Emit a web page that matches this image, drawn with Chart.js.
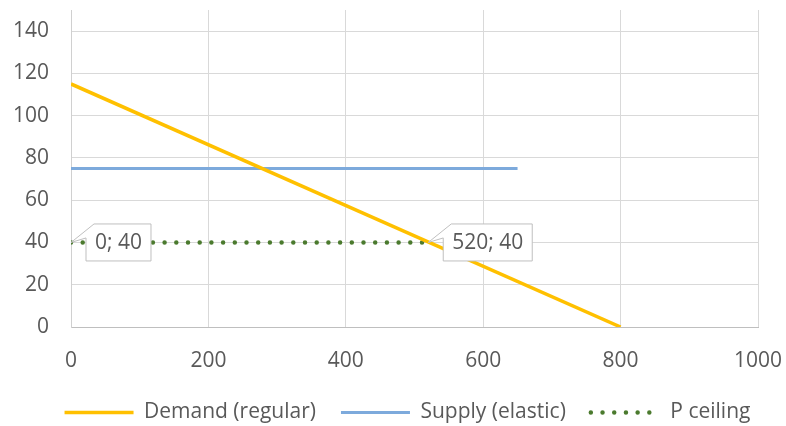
<!DOCTYPE html>
<html>
<head>
<meta charset="utf-8">
<script src="https://cdn.jsdelivr.net/npm/chart.js@4.4.1/dist/chart.umd.min.js"></script>
<style>
  html, body { margin: 0; padding: 0; background: #fff; }
  #wrap { width: 786px; height: 426px; }
</style>
</head>
<body>
<div id="wrap"><canvas id="chart"></canvas></div>
<script>
// data
const demandX = [0, 800];
const demandY = [115, 0];
const supplyX = [0, 650];
const supplyY = [75, 75];
const ceilingX = [0, 520];
const ceilingY = [40, 40];
const xTicks = [0, 200, 400, 600, 800, 1000];
const yTicks = [0, 20, 40, 60, 80, 100, 120, 140];
const seriesNames = ['Demand (regular)', 'Supply (elastic)', 'P ceiling'];

const FONT = 'Open Sans';
const TEXT = '#595959';

Chart.defaults.font.family = FONT;
Chart.defaults.font.size = 21;
Chart.defaults.color = TEXT;

function pts(xs, ys) {
  return xs.map((x, i) => ({ x: x, y: ys[i] }));
}

// callout boxes for the P ceiling points ("x; y")
const callouts = {
  id: 'callouts',
  afterDatasetsDraw(chart) {
    const meta = chart.getDatasetMeta(2);
    const ctx = chart.ctx;
    ctx.save();
    ctx.font = '21px "' + FONT + '"';
    meta.data.forEach((el, i) => {
      const label = ceilingX[i] + '; ' + ceilingY[i];
      const w = ctx.measureText(label).width + 18;
      const h = 37;
      const bx = el.x + 15;
      const by = el.y - h / 2;
      ctx.beginPath();
      ctx.moveTo(bx, by + 14);
      ctx.lineTo(el.x, el.y);
      ctx.lineTo(bx + 8, by);
      ctx.lineTo(bx + w, by);
      ctx.lineTo(bx + w, by + h);
      ctx.lineTo(bx, by + h);
      ctx.closePath();
      ctx.fillStyle = '#fff';
      ctx.fill();
      ctx.strokeStyle = '#BFBFBF';
      ctx.lineWidth = 1;
      ctx.stroke();
      ctx.fillStyle = TEXT;
      ctx.textAlign = 'center';
      ctx.textBaseline = 'middle';
      ctx.fillText(label, bx + w / 2, by + h / 2 + 1);
    });
    ctx.restore();
  }
};

// the original legend sits a little right of centre
const legendShift = {
  id: 'legendShift',
  afterLayout(chart) {
    chart.legend.left += 21;
    chart.legend.right += 21;
  }
};

new Chart(document.getElementById('chart'), {
  type: 'scatter',
  data: {
    datasets: [{
      label: seriesNames[0],
      data: pts(demandX, demandY),
      showLine: true,
      borderColor: '#FFC000',
      backgroundColor: '#FFC000',
      borderWidth: 3.5,
      pointRadius: 0
    }, {
      label: seriesNames[1],
      data: pts(supplyX, supplyY),
      showLine: true,
      borderColor: '#7DAADC',
      backgroundColor: '#7DAADC',
      borderWidth: 3,
      pointRadius: 0
    }, {
      label: seriesNames[2],
      data: pts(ceilingX, ceilingY),
      showLine: true,
      borderColor: '#4B7A2E',
      backgroundColor: '#4B7A2E',
      borderWidth: 4.5,
      borderDash: [0, 11.7],
      borderCapStyle: 'round',
      pointRadius: 0
    }]
  },
  options: {
    responsive: true,
    maintainAspectRatio: false,
    animation: false,
    layout: {
      padding: { left: 15, right: 28, top: 10, bottom: -7 }
    },
    plugins: {
      tooltip: { enabled: false },
      legend: {
        position: 'bottom',
        labels: {
          usePointStyle: true,
          pointStyleWidth: 69,
          padding: 25,
          color: TEXT,
          font: { size: 21 },
          generateLabels: (chart) => chart.data.datasets.map((ds, i) => ({
            text: ds.label,
            datasetIndex: i,
            hidden: false,
            fontColor: TEXT,
            fillStyle: ds.borderColor,
            strokeStyle: ds.borderColor,
            lineWidth: ds.borderWidth,
            lineDash: ds.borderDash || [],
            lineCap: ds.borderCapStyle || 'butt',
            pointStyle: 'line'
          }))
        }
      }
    },
    scales: {
      x: {
        type: 'linear',
        min: 0,
        max: 1000,
        afterBuildTicks: (scale) => { scale.ticks = xTicks.map(v => ({ value: v })); },
        afterFit: (scale) => {
          scale.height = 50;
          scale.paddingLeft = 0;
          scale.paddingRight = 0;
        },
        ticks: { padding: 21, color: TEXT, callback: (v) => String(v) },
        grid: { color: '#D9D9D9', drawTicks: false },
        border: { color: '#BFBFBF', width: 1 }
      },
      y: {
        min: 0,
        max: 150,
        afterBuildTicks: (scale) => { scale.ticks = yTicks.map(v => ({ value: v })); },
        afterFit: (scale) => {
          scale.width = 56;
          scale.paddingTop = 0;
          scale.paddingBottom = 0;
        },
        ticks: { padding: 22, color: TEXT, callback: (v) => String(v) },
        grid: { color: '#D9D9D9', drawTicks: false },
        border: { color: '#D0D0D0', width: 1 }
      }
    }
  },
  plugins: [callouts, legendShift]
});
</script>
</body>
</html>
